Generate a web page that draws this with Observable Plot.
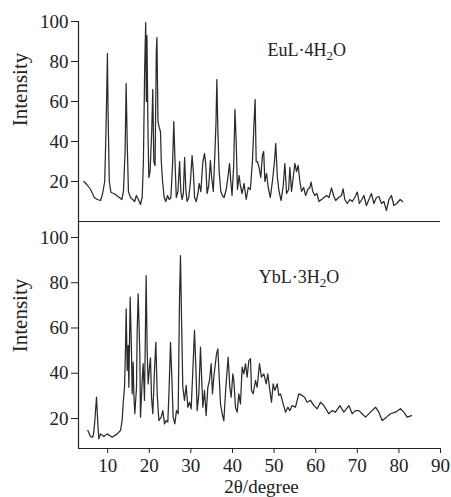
<!DOCTYPE html>
<html>
<head>
<meta charset="utf-8">
<script src="https://cdn.jsdelivr.net/npm/d3@7"></script>
<script src="https://cdn.jsdelivr.net/npm/@observablehq/plot@0.6"></script>
<style>
  html, body { margin: 0; padding: 0; background: #fff; }
  #chart { position: relative; width: 451px; height: 497px; overflow: hidden; background: #fff; }
  #top, #bottom { position: absolute; left: 0; }
  #top { top: 0; }
  #bottom { top: 221px; }
</style>
</head>
<body>
<div id="chart"><div id="top"></div><div id="bottom"></div></div>
<script>
// ---- data ----
const xTicks = [10, 20, 30, 40, 50, 60, 70, 80, 90];
const yTicks = [20, 40, 60, 80, 100];

const euLabel = "EuL·4H2O";
const ybLabel = "YbL·3H2O";
const xLabel = "2θ/degree";
const yLabel = "Intensity";

const euAngle = [4.3,5.0,5.9,6.8,7.5,8.3,8.8,9.3,9.6,9.8,9.95,10.1,10.4,10.8,11.5,12.2,12.8,13.4,13.8,14.2,14.45,14.7,15.0,15.5,16.0,16.5,16.9,17.4,17.9,18.3,18.6,18.9,19.15,19.3,19.45,19.7,19.9,20.2,20.6,20.85,21.1,21.4,21.7,21.85,22.1,22.4,22.7,22.9,23.2,23.6,24.0,24.4,24.8,25.2,25.6,25.9,26.2,26.5,26.9,27.3,27.6,27.9,28.2,28.5,28.8,29.1,29.5,29.9,30.3,30.6,30.9,31.3,31.7,32.0,32.4,32.9,33.3,33.6,33.9,34.3,34.7,35.0,35.4,35.8,36.05,36.25,36.5,36.8,37.2,37.6,38.0,38.5,38.9,39.3,39.6,39.9,40.3,40.6,40.9,41.2,41.6,41.9,42.3,42.8,43.3,43.8,44.3,44.8,45.2,45.45,45.7,46.0,46.4,46.8,47.2,47.5,47.8,48.2,48.6,49.1,49.6,50.1,50.4,50.8,51.2,51.7,52.2,52.6,53.0,53.5,53.8,54.2,54.6,55.0,55.4,55.8,56.2,56.6,57.1,57.6,58.1,58.6,58.9,59.3,59.8,60.3,60.8,61.4,62.0,62.6,63.2,63.8,64.3,64.8,65.5,66.2,66.6,67.0,67.6,68.2,68.8,69.4,70.0,70.5,71.1,71.6,72.2,72.8,73.4,74.0,74.6,75.2,75.8,76.4,77.0,77.6,78.2,78.8,79.5,80.3,80.9];
const euIntensity = [20,18.5,16,12,11,10.5,14,20,45,66,84,55,20,14.5,14,13,12,11,15,35,69,40,15,12,11,10,13,11,8.5,12,30,76,99.5,60,93,45,22,25,45,66,30,28,85,92,50,47,45,30,20,12,10,13,11,12,28,50,30,12,15,30,15,11,14,32,16,10,12,20,33,25,12,10,14,19,15,30,34,28,14,18,30.5,22,15,35,50,71,45,25,15,13,12,16,22,29,20,13,28,56,40,16,23,18,14,19,11,17,16,30,50,61,30,30,27,22,33,35,20,24,17,12,20,30,39,22,15,10.5,18,29,14,16,27,15,22,29,25,28,20,15,17,13,16,17,19.7,15,13,14,10,11,12,13,12,16.8,13,10.5,12,13,16.3,11,9,11,10,12,14.7,9,11,13,8,11,14,9,12,12.5,9,10,5.5,11,13,8,9,11,10];

const ybAngle = [5.24,5.88,6.44,6.68,6.93,7.33,7.65,7.89,8.29,9.09,9.89,11.09,12.29,13.09,13.49,13.73,14.06,14.30,14.46,14.70,14.94,15.10,15.42,15.74,15.90,16.14,16.30,16.54,16.94,17.10,17.34,17.74,17.90,18.30,18.54,18.86,19.26,19.50,19.74,20.06,20.30,20.54,20.86,21.26,21.59,21.91,22.31,22.87,23.27,23.67,24.07,24.47,24.79,25.11,25.43,25.75,26.15,26.55,26.95,27.27,27.51,27.75,28.07,28.47,28.88,29.28,29.68,30.08,30.48,30.88,31.20,31.52,31.92,32.32,32.56,32.88,33.28,33.68,34.08,34.48,34.88,35.20,35.52,36.17,36.49,36.81,37.13,37.53,37.93,38.41,38.97,39.37,39.69,40.09,40.33,40.73,41.13,41.53,41.93,42.33,42.73,43.13,43.53,43.94,44.34,44.58,44.98,45.54,45.94,46.50,46.98,47.54,48.10,48.50,48.98,49.38,49.78,50.18,50.75,51.15,51.55,52.19,52.75,53.31,53.79,54.35,55.15,55.95,56.75,57.31,57.95,58.76,59.56,60.36,61.16,61.96,63.16,63.96,64.76,65.80,66.77,67.97,68.77,69.57,70.37,71.17,71.97,73.18,74.38,75.18,75.98,77.02,77.98,79.18,80.38,81.19,81.99,83.03];
const ybIntensity = [14.7,12.0,11.75,14.0,19.1,29.4,17.6,11.0,13.2,12.0,13.2,11.75,13.2,14.7,19.1,26.5,33.8,51.5,68.5,41.2,52.3,33.8,73.6,48.6,30.9,44.9,30.9,22.1,33.8,58.2,75.1,48.6,20.6,36.8,44.2,28.0,83.2,50.0,35.3,42.7,46.8,29.4,22.1,41.2,53.7,30.9,19.1,20.6,23.5,17.6,19.1,18.4,33.8,53.7,38.3,20.6,17.6,23.5,22.1,72.1,92.0,65.5,33.8,28.0,34.6,25.0,27.2,24.3,41.2,58.9,42.7,23.5,30.9,51.5,39.7,25.0,32.4,21.3,33.8,36.8,44.2,30.9,38.3,48.6,50.8,38.3,26.5,22.1,19.0,33.8,47.1,33.8,29.4,39.7,36.8,25.0,22.8,30.9,26.5,42.7,39.7,44.2,38.3,45.6,46.4,32.4,30.9,36.8,33.8,44.2,38.3,39.7,35.3,39.7,32.4,27.2,35.3,32.4,35.3,30.2,30.9,26.5,22.8,25.0,23.5,25.7,25.0,30.9,30.2,29.4,27.2,28.0,25.7,24.3,27.2,25.7,22.1,23.5,22.8,25.7,22.8,25.7,22.1,23.5,23.5,22.1,20.6,22.8,25.0,22.8,19.1,20.6,22.1,22.8,24.3,22.8,20.6,21.3];

const eu = euAngle.map((a, i) => ({angle: a, intensity: euIntensity[i]}));
const yb = ybAngle.map((a, i) => ({angle: a, intensity: ybIntensity[i]}));

const font = "'Liberation Serif', 'Times New Roman', serif";
const ink = "#222";
const lineColor = "#2b2b2b";
const commonStyle = {background: "transparent", fontFamily: font, fontSize: "19px", color: ink, overflow: "visible"};

const topPlot = Plot.plot({
  width: 451, height: 222,
  marginLeft: 78, marginRight: 11, marginTop: 21, marginBottom: 1,
  style: commonStyle,
  x: {domain: [3, 90], axis: null},
  y: {domain: [0, 100]},
  marks: [
    Plot.axisY({ticks: yTicks, tickSize: 7, tickPadding: 3, label: null, stroke: ink}),
    Plot.ruleX([3], {y1: 0, y2: 100, stroke: ink, strokeWidth: 1.2}),
    Plot.ruleY([0], {stroke: ink, strokeWidth: 1.2}),
    Plot.line(eu, {x: "angle", y: "intensity", stroke: lineColor, strokeWidth: 1.25}),
    Plot.text([euLabel], {x: 48.4, y: 83, text: d => d, textAnchor: "start", lineAnchor: "bottom", fontSize: 18, fill: ink}),
    Plot.text([yLabel], {frameAnchor: "left", text: d => d, rotate: -90, dx: -58, dy: -32, fontSize: 21, fill: ink, textAnchor: "middle", lineAnchor: "middle"})
  ]
});

const bottomPlot = Plot.plot({
  width: 451, height: 276,
  marginLeft: 78, marginRight: 11, marginTop: 0, marginBottom: 49,
  style: commonStyle,
  x: {domain: [3, 90]},
  y: {domain: [6.74, 107.07]},
  marks: [
    Plot.axisX({ticks: xTicks, tickSize: 5, tickPadding: 5, label: null, stroke: ink}),
    Plot.axisY({ticks: yTicks, tickSize: 7, tickPadding: 3, label: null, stroke: ink}),
    Plot.ruleX([3], {stroke: ink, strokeWidth: 1.2}),
    Plot.ruleY([6.74], {stroke: ink, strokeWidth: 1.2}),
    Plot.line(yb, {x: "angle", y: "intensity", stroke: lineColor, strokeWidth: 1.25}),
    Plot.text([ybLabel], {x: 46.3, y: 79.7, text: d => d, textAnchor: "start", lineAnchor: "bottom", fontSize: 18, fill: ink}),
    Plot.text([yLabel], {frameAnchor: "left", text: d => d, rotate: -90, dx: -58, dy: -19.5, fontSize: 21, fill: ink, textAnchor: "middle", lineAnchor: "middle"}),
    Plot.text([xLabel], {frameAnchor: "bottom", text: d => d, dx: 2, dy: 44.5, fontSize: 19, fill: ink, textAnchor: "middle", lineAnchor: "bottom"})
  ]
});

document.getElementById("top").appendChild(topPlot);
document.getElementById("bottom").appendChild(bottomPlot);

// subscript the "2" in H2O
function subscriptify(svg) {
  d3.select(svg).selectAll("text").filter(function () {
    return /H2O$/.test(this.textContent);
  }).each(function () {
    const t = this.textContent;
    const sel = d3.select(this);
    sel.text(null);
    sel.append("tspan").text(t.slice(0, -2));
    sel.append("tspan").attr("dy", "4").attr("font-size", "13").text("2");
    sel.append("tspan").attr("dy", "-4").text("O");
  });
}
subscriptify(topPlot);
subscriptify(bottomPlot);
</script>
</body>
</html>
